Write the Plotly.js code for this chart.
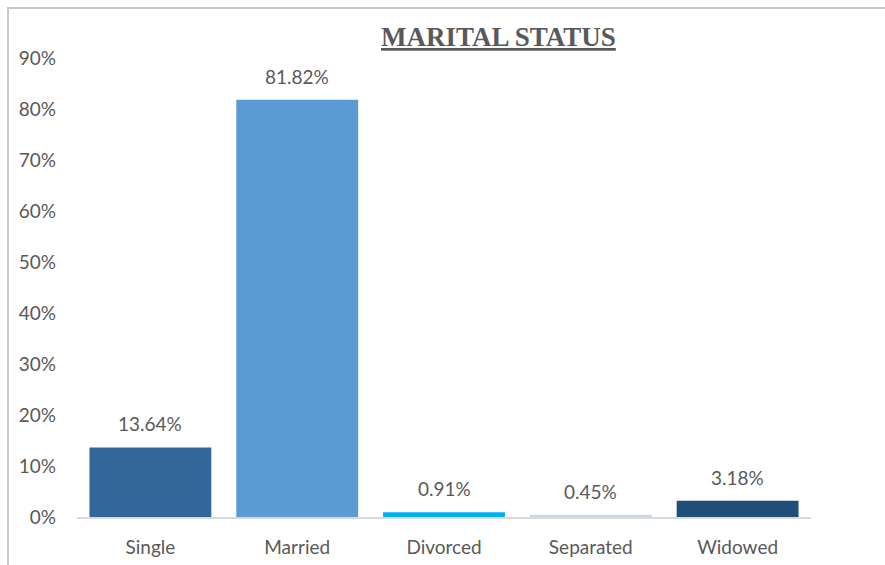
<!DOCTYPE html>
<html>
<head>
<meta charset="utf-8">
<script src="https://cdn.plot.ly/plotly-3.0.1.min.js"></script>
<style>
  html, body { margin: 0; padding: 0; background: #fff; overflow: hidden; }
  #frame { position: absolute; left: 7px; top: 7px; width: 2000px; height: 2000px;
           border-left: 2px solid #C8C8C8; border-top: 2px solid #C8C8C8; pointer-events: none; }
  #chart { position: absolute; left: 0; top: 0; width: 885px; height: 565px; }
</style>
</head>
<body>
<div id="chart"></div>
<div id="frame"></div>
<script>
const categories = ["Single", "Married", "Divorced", "Separated", "Widowed"];
const values = [0.1364, 0.8182, 0.0091, 0.0045, 0.0318];
const valueLabels = ["13.64%", "81.82%", "0.91%", "0.45%", "3.18%"];
const barColors = ["#336699", "#5B9BD5", "#00B0F0", "#C9D7EA", "#1F4E79"];
const yTicks = [0, 0.1, 0.2, 0.3, 0.4, 0.5, 0.6, 0.7, 0.8, 0.9];
const yTickText = ["0%", "10%", "20%", "30%", "40%", "50%", "60%", "70%", "80%", "90%"];

const fontFam = "Lato, 'Open Sans', sans-serif";
const grey = "#595959";

const trace = {
  type: "bar",
  x: categories,
  y: values,
  marker: { color: barColors },
  hoverinfo: "none"
};

const annotations = categories.map((c, i) => ({
  x: c, y: values[i], xref: "x", yref: "y",
  text: valueLabels[i], showarrow: false,
  yanchor: "bottom", yshift: 10,
  font: { family: fontFam, size: 19, color: grey }
}));
annotations.push({
  xref: "paper", yref: "paper", x: 0.574, y: 1, yanchor: "bottom", yshift: 4,
  text: "<b><u>MARITAL STATUS</u></b>", showarrow: false,
  font: { family: "'Liberation Serif', 'DejaVu Serif', serif", size: 27, color: grey }
});

const layout = {
  width: 885, height: 565,
  margin: { l: 77, r: 74, t: 58, b: 48 },
  paper_bgcolor: "rgba(0,0,0,0)",
  plot_bgcolor: "rgba(0,0,0,0)",
  bargap: 0.17,
  showlegend: false,
  xaxis: {
    type: "category",
    showline: true, linecolor: "#D9D9D9", linewidth: 2,
    showgrid: false, zeroline: false, ticks: "",
    ticklabelstandoff: 12,
    tickfont: { family: fontFam, size: 19, color: grey }
  },
  yaxis: {
    range: [0, 0.9],
    tickvals: yTicks, ticktext: yTickText,
    showgrid: false, zeroline: false, showline: false, ticks: "",
    ticklabelstandoff: 20,
    tickfont: { family: fontFam, size: 19, color: grey }
  },
  annotations: annotations
};

Plotly.newPlot("chart", [trace], layout, { staticPlot: true });
</script>
</body>
</html>
